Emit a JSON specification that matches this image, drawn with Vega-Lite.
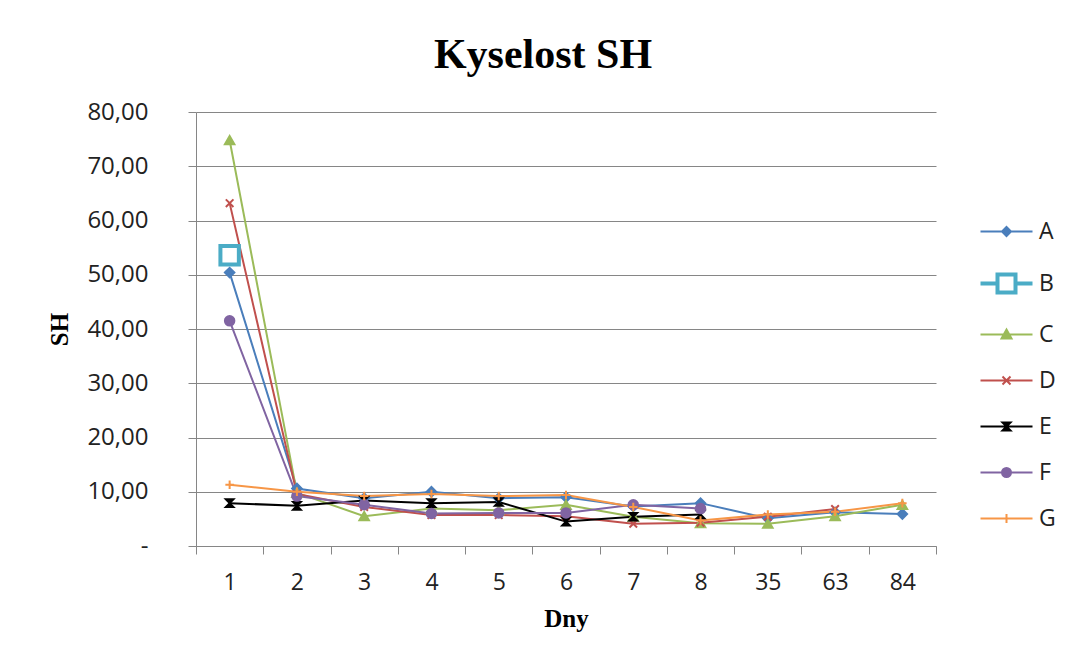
{
  "$schema": "https://vega.github.io/schema/vega-lite/v6.json",
  "width": 740,
  "height": 434,
  "autosize": {"type": "none"},
  "padding": {"left": 196, "top": 112, "right": 132, "bottom": 115},
  "background": "white",
  "title": {
    "text": "Kyselost SH",
    "font": "Liberation Serif",
    "fontSize": 42,
    "fontWeight": "bold",
    "color": "#000000",
    "anchor": "middle",
    "baseline": "alphabetic",
    "offset": 42,
    "dx": -23,
    "dy": 52
  },
  "config": {
    "view": {"stroke": null},
    "axis": {
      "labelFont": "Open Sans",
      "labelFontSize": 23,
      "labelColor": "#222222",
      "titleFont": "Liberation Serif",
      "titleFontSize": 25,
      "titleFontWeight": "bold",
      "titleColor": "#000000",
      "domainColor": "#868686",
      "tickColor": "#868686",
      "gridColor": "#868686",
      "tickSize": 8
    }
  },
  "data": {
    "values": [
      {"day": "1", "series": "A", "sh": 50.4},
      {"day": "2", "series": "A", "sh": 10.6},
      {"day": "3", "series": "A", "sh": 8.8},
      {"day": "4", "series": "A", "sh": 10.0},
      {"day": "5", "series": "A", "sh": 8.8},
      {"day": "6", "series": "A", "sh": 9.0},
      {"day": "7", "series": "A", "sh": 7.3},
      {"day": "8", "series": "A", "sh": 7.9},
      {"day": "35", "series": "A", "sh": 5.1},
      {"day": "63", "series": "A", "sh": 6.2},
      {"day": "84", "series": "A", "sh": 5.9},
      {"day": "1", "series": "B", "sh": 53.6},
      {"day": "1", "series": "C", "sh": 74.8},
      {"day": "2", "series": "C", "sh": 9.8},
      {"day": "3", "series": "C", "sh": 5.5},
      {"day": "4", "series": "C", "sh": 6.9},
      {"day": "5", "series": "C", "sh": 6.6},
      {"day": "6", "series": "C", "sh": 7.6},
      {"day": "7", "series": "C", "sh": 5.4},
      {"day": "8", "series": "C", "sh": 4.2},
      {"day": "35", "series": "C", "sh": 4.1},
      {"day": "63", "series": "C", "sh": 5.5},
      {"day": "84", "series": "C", "sh": 7.6},
      {"day": "1", "series": "D", "sh": 63.2},
      {"day": "2", "series": "D", "sh": 9.6},
      {"day": "3", "series": "D", "sh": 7.2},
      {"day": "4", "series": "D", "sh": 5.7},
      {"day": "5", "series": "D", "sh": 5.7},
      {"day": "6", "series": "D", "sh": 5.5},
      {"day": "7", "series": "D", "sh": 4.1},
      {"day": "8", "series": "D", "sh": 4.3},
      {"day": "35", "series": "D", "sh": 5.4},
      {"day": "63", "series": "D", "sh": 6.8},
      {"day": "1", "series": "E", "sh": 7.9},
      {"day": "2", "series": "E", "sh": 7.4},
      {"day": "3", "series": "E", "sh": 8.4},
      {"day": "4", "series": "E", "sh": 7.9},
      {"day": "5", "series": "E", "sh": 8.1},
      {"day": "6", "series": "E", "sh": 4.5},
      {"day": "7", "series": "E", "sh": 5.4},
      {"day": "8", "series": "E", "sh": 5.8},
      {"day": "1", "series": "F", "sh": 41.5},
      {"day": "2", "series": "F", "sh": 9.2},
      {"day": "3", "series": "F", "sh": 7.6},
      {"day": "4", "series": "F", "sh": 6.0},
      {"day": "5", "series": "F", "sh": 6.1},
      {"day": "6", "series": "F", "sh": 6.1},
      {"day": "7", "series": "F", "sh": 7.6},
      {"day": "8", "series": "F", "sh": 6.9},
      {"day": "1", "series": "G", "sh": 11.3},
      {"day": "2", "series": "G", "sh": 10.0},
      {"day": "3", "series": "G", "sh": 9.2},
      {"day": "4", "series": "G", "sh": 9.6},
      {"day": "5", "series": "G", "sh": 9.2},
      {"day": "6", "series": "G", "sh": 9.4},
      {"day": "7", "series": "G", "sh": 7.2},
      {"day": "8", "series": "G", "sh": 4.7},
      {"day": "35", "series": "G", "sh": 5.8},
      {"day": "63", "series": "G", "sh": 6.3},
      {"day": "84", "series": "G", "sh": 7.9}
    ]
  },
  "encoding": {
    "x": {
      "field": "day",
      "type": "ordinal",
      "sort": ["1", "2", "3", "4", "5", "6", "7", "8", "35", "63", "84"],
      "scale": {"type": "band", "paddingInner": 0, "paddingOuter": 0},
      "axis": {
        "title": "Dny",
        "labelAngle": 0,
        "tickBand": "extent",
        "labelPadding": 17,
        "titlePadding": 12,
        "grid": false
      }
    },
    "y": {
      "field": "sh",
      "type": "quantitative",
      "scale": {"domain": [0, 80], "nice": false},
      "axis": {
        "title": "SH",
        "values": [0, 10, 20, 30, 40, 50, 60, 70, 80],
        "labelExpr": "datum.value == 0 ? '-' : replace(format(datum.value, '.2f'), '.', ',')",
        "labelPadding": 40,
        "labelFontSize": 24,
        "titlePadding": 14,
        "grid": true
      }
    }
  },
  "layer": [
    {
      "mark": {"type": "line", "strokeWidth": 2},
      "encoding": {
        "color": {
          "field": "series",
          "type": "nominal",
          "scale": {
            "domain": ["A", "B", "C", "D", "E", "F", "G"],
            "range": ["#4A7EBB", "#4BACC6", "#9BBB59", "#C0504D", "#000000", "#8064A2", "#F79646"]
          },
          "legend": {
            "title": null,
            "orient": "none",
            "legendX": 799,
            "legendY": 108,
            "padding": 0,
            "symbolSize": 400,
            "labelFont": "Open Sans",
            "labelFontSize": 23,
            "labelColor": "#222222",
            "labelOffset": 21,
            "rowPadding": 22,
            "encode": {
              "symbols": {
                "update": {
                  "shape": {"signal": "['M-2.6,0L2.6,0M0,-0.45L0.45,0L0,0.45L-0.45,0Z', 'M-2.6,0L-0.9,0M0.9,0L2.6,0M-0.9,-0.9L0.9,-0.9L0.9,0.9L-0.9,0.9Z', 'M-2.6,0L2.6,0M0,-0.5L0.5,0.4L-0.5,0.4Z', 'M-2.6,0L2.6,0M-0.4,-0.4L0.4,0.4M0.4,-0.4L-0.4,0.4', 'M-2.6,0L2.6,0M-0.4,-0.4L0.4,-0.4L-0.4,0.4L0.4,0.4Z', 'M-2.6,0L2.6,0M-0.45,0A0.45,0.45,0,1,0,0.45,0A0.45,0.45,0,1,0,-0.45,0Z', 'M-2.6,0L2.6,0M0,-0.45L0,0.45'][indexof(['A','B','C','D','E','F','G'], datum.value)]"},
                  "fill": {"signal": "datum.value == 'B' ? '#ffffff' : scale('color', datum.value)"},
                  "stroke": {"signal": "scale('color', datum.value)"},
                  "strokeWidth": {"signal": "datum.value == 'B' ? 4 : 2"},
                  "opacity": {"value": 1}
                }
              }
            }
          }
        },
        "detail": {"field": "series"}
      }
    },
    {
      "transform": [{"filter": "datum.series != 'B'"}],
      "mark": {"type": "point", "size": 90, "strokeWidth": 2, "opacity": 1},
      "encoding": {
        "shape": {
          "field": "series",
          "type": "nominal",
          "scale": {
            "domain": ["A", "C", "D", "E", "F", "G"],
            "range": ["diamond", "triangle-up", "M-0.8,-0.8L0.8,0.8M0.8,-0.8L-0.8,0.8", "M-0.8,-0.8L0.8,-0.8L-0.8,0.8L0.8,0.8Z", "circle", "M-0.9,0L0.9,0M0,-0.9L0,0.9"]
          },
          "legend": null
        },
        "fill": {
          "field": "series",
          "type": "nominal",
          "scale": {
            "domain": ["A", "C", "D", "E", "F", "G"],
            "range": ["#4A7EBB", "#9BBB59", "#C0504D", "#000000", "#8064A2", "#F79646"]
          },
          "legend": null
        },
        "stroke": {
          "field": "series",
          "type": "nominal",
          "scale": {
            "domain": ["A", "C", "D", "E", "F", "G"],
            "range": ["#4A7EBB", "#9BBB59", "#C0504D", "#000000", "#8064A2", "#F79646"]
          },
          "legend": null
        }
      }
    },
    {
      "transform": [{"filter": "datum.series == 'B'"}],
      "mark": {"type": "point", "shape": "square", "size": 340, "strokeWidth": 4, "fill": "#ffffff", "stroke": "#4BACC6", "filled": false, "opacity": 1},
      "encoding": {}
    }
  ]
}
